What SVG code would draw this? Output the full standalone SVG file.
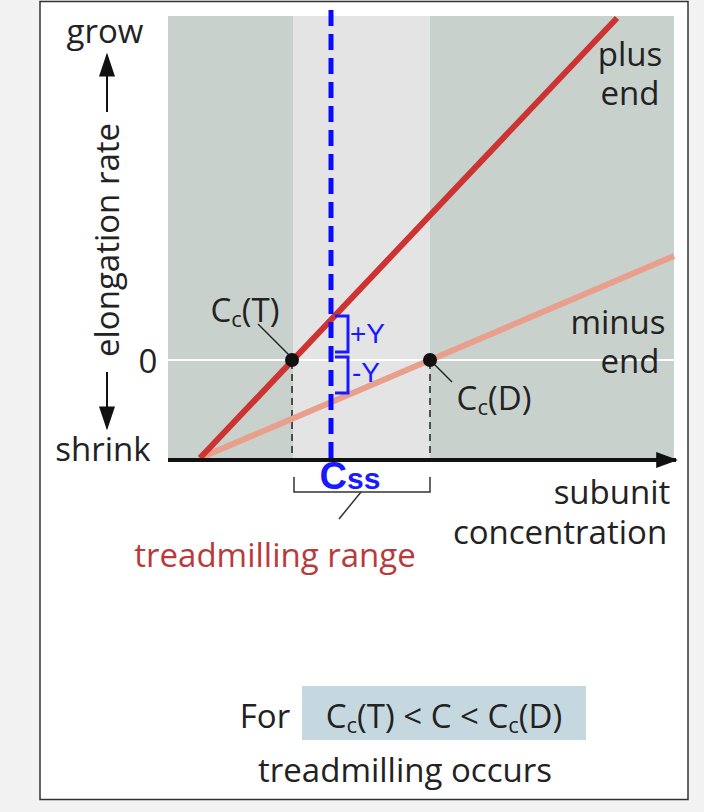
<svg xmlns="http://www.w3.org/2000/svg" width="704" height="812" viewBox="0 0 704 812">
<style>
text{font-family:"Open Sans","Noto Sans","Liberation Sans",sans-serif;fill:#222}
.t{font-size:33px}
.b{fill:#1a1aff;font-family:"Liberation Sans",Arial,sans-serif}
.dash{stroke:#222;stroke-width:1.5;stroke-dasharray:7,5;fill:none}
</style>
<defs>
<marker id="ah" viewBox="0 0 10 10" markerWidth="22" markerHeight="16" refX="9" refY="5" orient="auto" markerUnits="userSpaceOnUse" preserveAspectRatio="none"><path d="M0,0 L10,5 L0,10z" fill="#111"/></marker>
<marker id="av" viewBox="0 0 10 10" markerWidth="24" markerHeight="16" refX="9" refY="5" orient="auto" markerUnits="userSpaceOnUse" preserveAspectRatio="none"><path d="M0,0 L10,5 L0,10z" fill="#111"/></marker>
</defs>
<rect width="704" height="812" fill="#f2f2f2"/>
<rect x="40" y="1.5" width="648" height="798" fill="#fff" stroke="#333" stroke-width="1.5"/>
<g id="plot">
<rect x="168" y="16" width="506" height="444" fill="#c9d1cc"/>
<rect x="293" y="16" width="137" height="444" fill="#e4e4e4"/>
<line x1="168" y1="360" x2="674" y2="360" stroke="#fff" stroke-width="2"/>
</g>
<g id="connectors">
<line x1="292" y1="362" x2="292" y2="458" class="dash"/>
<line x1="430" y1="362" x2="430" y2="458" class="dash"/>
<line x1="200" y1="458" x2="674" y2="256" stroke="#e8a08c" stroke-width="6"/>
<line x1="200" y1="458" x2="617" y2="18" stroke="#cc3333" stroke-width="6"/>
<line x1="168" y1="460" x2="676" y2="460" stroke="#111" stroke-width="4" marker-end="url(#ah)"/>
<line x1="107" y1="112" x2="107" y2="55" stroke="#111" stroke-width="2" marker-end="url(#av)"/>
<line x1="107" y1="372" x2="107" y2="428" stroke="#111" stroke-width="2" marker-end="url(#av)"/>
<line x1="258" y1="324" x2="290" y2="356" stroke="#222" stroke-width="1.5"/>
<line x1="432" y1="362" x2="452" y2="382" stroke="#222" stroke-width="1.5"/>
<path d="M294,477 V492 H430 V477" style="fill:none;stroke:#333;stroke-width:1.5"/>
<line x1="361" y1="492" x2="339" y2="519" stroke="#333" stroke-width="1.5"/>
<line x1="331" y1="10" x2="331" y2="460" stroke="#0a0aff" stroke-width="5" stroke-dasharray="16,8"/>
<path d="M335,316 H348 V352 H335 M335,357 H348 V393 H335" fill="none" stroke="#1a1aff" stroke-width="3"/>
</g>
<g id="points">
<circle cx="292" cy="360" r="7" fill="#111"/>
<circle cx="430" cy="360" r="7" fill="#111"/>
</g>
<g id="labels">
<text x="105" y="43" class="t" text-anchor="middle">grow</text>
<text transform="translate(119,240) rotate(-90)" class="t" text-anchor="middle">elongation rate</text>
<text x="148" y="373" class="t" text-anchor="middle">0</text>
<text x="103" y="461" class="t" text-anchor="middle">shrink</text>
<text x="630" y="66" class="t" text-anchor="middle">plus</text>
<text x="630" y="105" class="t" text-anchor="middle">end</text>
<text x="618" y="334" class="t" text-anchor="middle">minus</text>
<text x="630" y="373" class="t" text-anchor="middle">end</text>
<text x="245" y="322" class="t" text-anchor="middle">C<tspan font-size="22" dy="5">c</tspan><tspan dy="-5">(T)</tspan></text>
<text x="494" y="410" class="t" text-anchor="middle">C<tspan font-size="22" dy="5">c</tspan><tspan dy="-5">(D)</tspan></text>
<text x="350" y="343" class="b" font-size="28">+Y</text>
<text x="352" y="382" class="b" font-size="28">-Y</text>
<text x="350" y="489" class="b" font-size="38" font-weight="bold" text-anchor="middle">C<tspan font-size="30">ss</tspan></text>
<text x="612" y="504" class="t" text-anchor="middle">subunit</text>
<text x="560" y="544" class="t" text-anchor="middle">concentration</text>
<text x="275" y="567" class="t" text-anchor="middle" style="fill:#b83a3a">treadmilling range</text>
<text x="265" y="728" class="t" text-anchor="middle">For</text>
<rect x="302" y="686" width="284" height="54" fill="#c6d8df"/>
<text x="444" y="728" class="t" text-anchor="middle">C<tspan font-size="22" dy="5">c</tspan><tspan dy="-5">(T) &lt; C &lt; C</tspan><tspan font-size="22" dy="5">c</tspan><tspan dy="-5">(D)</tspan></text>
<text x="405" y="782" class="t" text-anchor="middle">treadmilling occurs</text>
</g>
</svg>
